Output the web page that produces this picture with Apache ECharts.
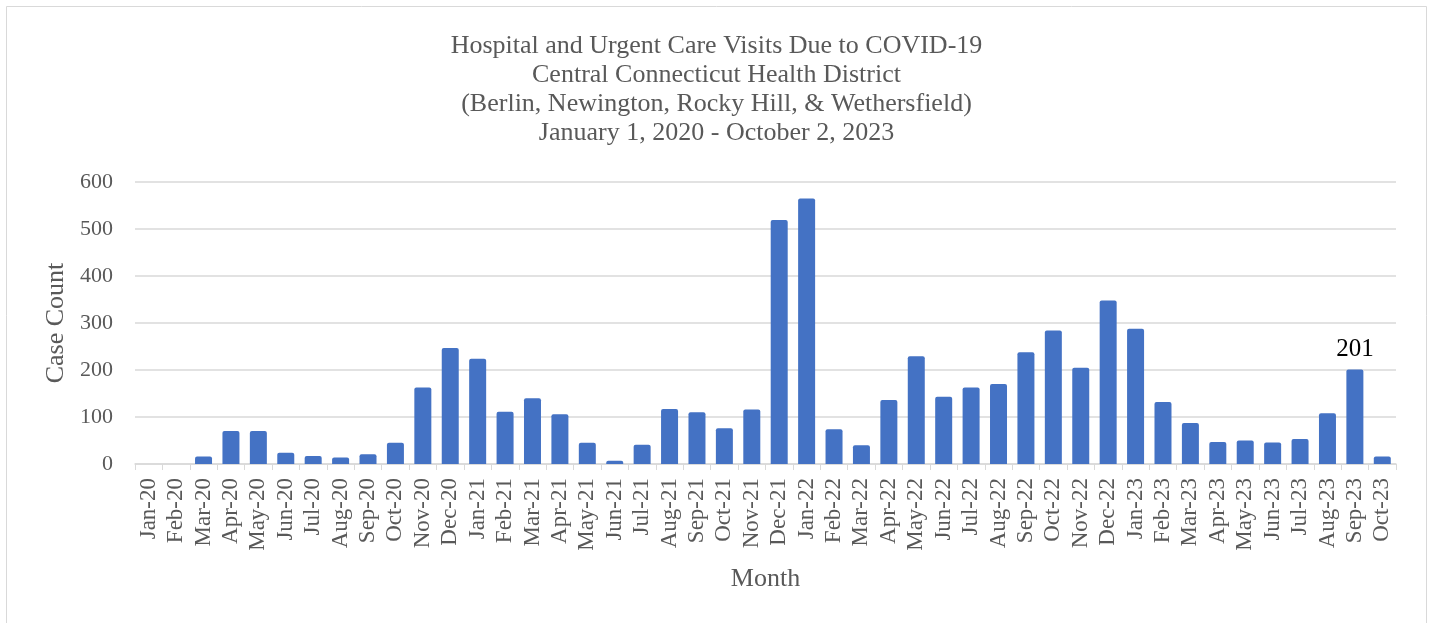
<!DOCTYPE html>
<html>
<head>
<meta charset="utf-8">
<script src="https://cdn.jsdelivr.net/npm/echarts@6/dist/echarts.min.js"></script>
<style>
  html, body { margin: 0; padding: 0; background: #ffffff; }
  #chart { width: 1433px; height: 623px; }
</style>
</head>
<body>
<div id="chart"></div>
<script>
const months = [
  'Jan-20', 'Feb-20', 'Mar-20', 'Apr-20', 'May-20', 'Jun-20', 'Jul-20', 'Aug-20', 'Sep-20', 'Oct-20', 'Nov-20', 'Dec-20',
  'Jan-21', 'Feb-21', 'Mar-21', 'Apr-21', 'May-21', 'Jun-21', 'Jul-21', 'Aug-21', 'Sep-21', 'Oct-21', 'Nov-21', 'Dec-21',
  'Jan-22', 'Feb-22', 'Mar-22', 'Apr-22', 'May-22', 'Jun-22', 'Jul-22', 'Aug-22', 'Sep-22', 'Oct-22', 'Nov-22', 'Dec-22',
  'Jan-23', 'Feb-23', 'Mar-23', 'Apr-23', 'May-23', 'Jun-23', 'Jul-23', 'Aug-23', 'Sep-23', 'Oct-23',
];
const visits = [
  0, 0, 16, 70, 70, 24, 17, 14, 21, 45, 163, 247,
  224, 111, 140, 106, 45, 7, 41, 117, 110, 76, 116, 519,
  565, 74, 40, 136, 229, 143, 163, 170, 238, 284, 205, 348,
  288, 132, 87, 47, 50, 46, 53, 108, 201, 16,
];
const labelledMonths = ['Sep-23'];
const titleLines = [
  'Hospital and Urgent Care Visits Due to COVID-19',
  'Central Connecticut Health District',
  '(Berlin, Newington, Rocky Hill, & Wethersfield)',
  'January 1, 2020 - October 2, 2023',
];

const FONT = '"Liberation Serif", "Times New Roman", serif';
const TEXT_COLOR = '#595959';
const LINE_COLOR = '#d9d9d9';

const chart = echarts.init(document.getElementById('chart'), null, { renderer: 'canvas' });

chart.setOption({
  animation: false,
  backgroundColor: '#ffffff',
  graphic: [
    {
      type: 'rect',
      silent: true,
      shape: { x: 6.5, y: 6.5, width: 1420, height: 640 },
      style: { fill: 'none', stroke: LINE_COLOR, lineWidth: 1 },
    },
  ],
  title: {
    text: titleLines.join('\n'),
    left: 'center',
    top: 27,
    textStyle: {
      fontFamily: FONT,
      fontSize: 26,
      lineHeight: 29,
      fontWeight: 'normal',
      color: TEXT_COLOR,
    },
  },
  grid: {
    left: 135,
    right: 37,
    top: 182,
    bottom: 159,
    containLabel: false,
  },
  xAxis: {
    type: 'category',
    data: months,
    name: 'Month',
    nameLocation: 'middle',
    nameGap: 102,
    nameTextStyle: { fontFamily: FONT, fontSize: 26, color: TEXT_COLOR },
    axisLine: { lineStyle: { color: LINE_COLOR, width: 1.5 } },
    axisTick: { show: true, length: 6, lineStyle: { color: LINE_COLOR } },
    axisLabel: {
      rotate: 90,
      interval: 0,
      margin: 14,
      fontFamily: FONT,
      fontSize: 23,
      color: TEXT_COLOR,
    },
  },
  yAxis: {
    type: 'value',
    min: 0,
    max: 600,
    interval: 100,
    name: 'Case Count',
    nameLocation: 'middle',
    nameGap: 64,
    nameTextStyle: { fontFamily: FONT, fontSize: 26, color: TEXT_COLOR },
    axisLine: { show: false },
    axisTick: { show: false },
    axisLabel: { margin: 22, fontFamily: FONT, fontSize: 22, color: TEXT_COLOR },
    splitLine: { lineStyle: { color: LINE_COLOR, width: 1.5 } },
  },
  series: [
    {
      type: 'bar',
      barWidth: '62%',
      itemStyle: { color: '#4472c4', borderRadius: [2, 2, 0, 0] },
      data: visits.map((value, i) => ({
        value,
        label: {
          show: labelledMonths.includes(months[i]),
          position: 'top',
          distance: 8,
          fontFamily: FONT,
          fontSize: 25,
          color: '#000000',
        },
      })),
    },
  ],
});
</script>
</body>
</html>
